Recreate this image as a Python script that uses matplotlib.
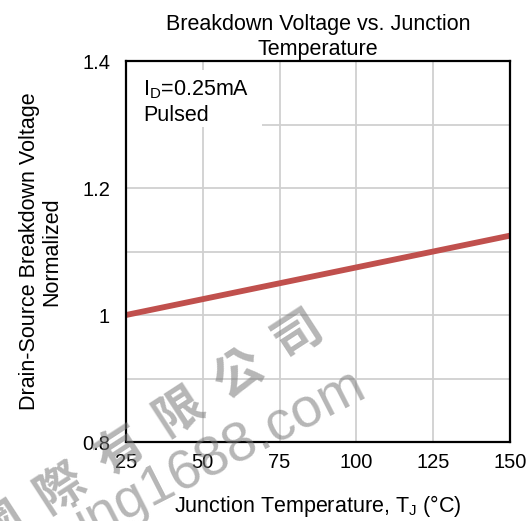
import matplotlib
matplotlib.use("Agg")
import matplotlib.pyplot as plt
from matplotlib.patches import Rectangle
from matplotlib.ticker import MultipleLocator

plt.rcParams["font.family"] = ["Liberation Sans", "DejaVu Sans"]
plt.rcParams["mathtext.fontset"] = "custom"
plt.rcParams["mathtext.rm"] = "Liberation Sans"

# normalized BVdss vs junction temperature (ID = 0.25 mA, pulsed)
temp_c = [25, 150]
bv_norm = [1.0, 1.125]

x_ticks = [25, 50, 75, 100, 125, 150]
y_ticks = [0.8, 1.0, 1.2, 1.4]
y_tick_labels = ["0.8", "1", "1.2", "1.4"]

LINE_RED = "#C0504D"
GRID_GRAY = "#D0D0D0"

fig = plt.figure(figsize=(5.31, 5.21), dpi=100)
ax = fig.add_axes([0.2373, 0.1516, 0.7232, 0.7313])

ax.plot(temp_c, bv_norm, color=LINE_RED, lw=4.2, solid_capstyle="butt", zorder=3)

ax.set_xlim(25, 150)
ax.set_ylim(0.8, 1.4)
ax.set_xticks(x_ticks)
ax.set_yticks(y_ticks)
ax.set_yticklabels(y_tick_labels)
ax.yaxis.set_minor_locator(MultipleLocator(0.1))
ax.tick_params(axis="both", which="both", length=0, labelsize=14.5)
ax.tick_params(axis="y", pad=11.5)
ax.tick_params(axis="x", pad=8)
ax.grid(True, which="major", axis="x", color=GRID_GRAY, lw=1.3)
ax.grid(True, which="both", axis="y", color=GRID_GRAY, lw=1.3)
ax.set_axisbelow(True)
for sp in ax.spines.values():
    sp.set_color("black")
    sp.set_linewidth(1.6)
    sp.set_zorder(4)

ax.set_title("Breakdown Voltage vs. Junction\nTemperature", fontsize=15.5, pad=4,
             linespacing=1.3)
ax.set_xlabel("Junction Temperature, T$_{\\rm J}$ (°C)", fontsize=15.5, labelpad=15)
ax.set_ylabel("Drain-Source Breakdown Voltage\nNormalized", fontsize=15.5, labelpad=14.5,
              linespacing=1.05)

# white label panel in the top-left corner, hides the grid behind it
ax.add_patch(Rectangle((0.0, 0.827), 0.354, 0.149, transform=ax.transAxes,
                       facecolor="white", edgecolor="none", zorder=2))
ax.text(0.044, 0.911, "I$_{\\rm D}$=0.25mA", transform=ax.transAxes,
        fontsize=15.5, va="baseline", ha="left", zorder=5)
ax.text(0.044, 0.843, "Pulsed", transform=ax.transAxes,
        fontsize=15.5, va="baseline", ha="left", zorder=5)

# faint diagonal watermark across the lower-left corner
wm_color = "#7A7A7A"
fig.text(0.283, 0.172, "國  際  有  限  公  司", fontsize=35, rotation=33,
         color=wm_color, alpha=0.55, ha="center", va="center", weight="bold",
         rotation_mode="anchor", family=["Noto Sans CJK TC", "DejaVu Sans"], zorder=10)
fig.text(0.415, 0.128, "ing1688.com", fontsize=40, rotation=27,
         color=wm_color, alpha=0.55, ha="center", va="center",
         rotation_mode="anchor", zorder=10)

fig.savefig("out.png", dpi=100)
